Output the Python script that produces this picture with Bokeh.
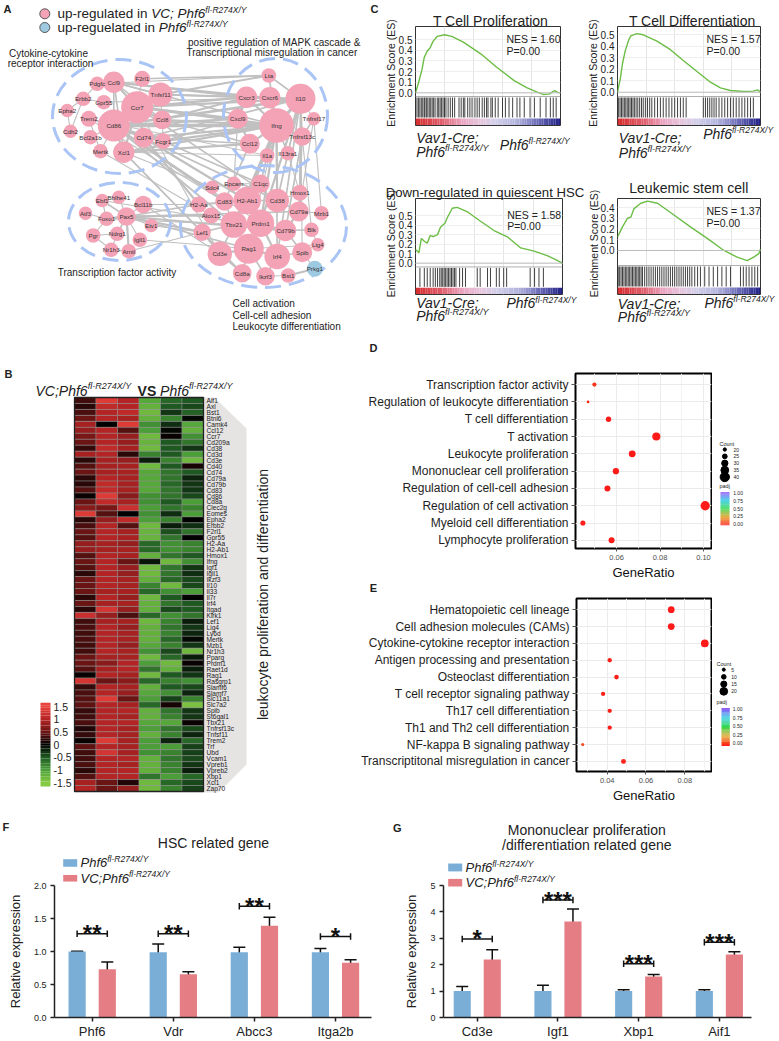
import math
from bokeh.plotting import figure
from bokeh.layouts import row, column
from bokeh.models import (Range1d, FixedTicker, ColumnDataSource, LinearColorMapper,
                          Span, Whisker, TeeHead, PrintfTickFormatter)
from bokeh.core.properties import value
from bokeh.embed import file_html
from bokeh.resources import INLINE

FONT = "Liberation Sans"
INK = "#222222"

# ======================= DATA =======================
# ---- Panel A: network ----
net_names = ["Pdgfc", "Ccl9", "F2rl1", "Tnfsf11", "Erbb2", "Gpr55", "Ccr7", "Epha2", "Trem2", "Cd86",
             "Ccl8", "Cdh2", "Cd74", "Bcl2a1b", "Fcgr1", "Mertk", "Xcl1",
             "Lta", "Cxcr3", "Cxcr6", "Il10", "Cxcl9", "Ifng", "Tnfrsf17", "Tnfrsf13c", "Ccl12", "Il1a", "Il13ra1",
             "Ebf1", "Bhlhe41", "Bcl11b", "Atf3", "Foxo1", "Pax5", "Etv1", "Pgr", "Ndrg1", "Igll1", "Nr1h3", "Arntl",
             "Sdc4", "Epcam", "C1qc", "Hmox1", "H2-Aa", "Cd83", "H2-Ab1", "Cd38", "Cd79a", "Mzb1", "Alox15",
             "Tbx21", "Prdm1", "Cd79b", "Blk", "Lef1", "Lig4", "Cd3e", "Rag1", "Irf4", "Spib", "Cd8a", "Ikzf3",
             "Bst1", "Prkg1"]
net_x = [96.7, 113.3, 141.7, 160, 82.7, 103.3, 136.7, 66.7, 88.3, 113.3, 161.7, 70, 143.3, 90, 162.7, 100, 123.3,
         268.3, 246, 269.3, 300, 237.3, 276, 313.3, 301.7, 249.3, 266.7, 287.3,
         101.7, 118.3, 142.7, 85, 106, 126, 150.7, 92.7, 116.7, 139.3, 110.7, 128.3,
         211.7, 233.3, 260, 299.3, 198.3, 224, 246.7, 276.7, 298.3, 321, 210.7, 233.3, 260, 285, 311, 201.7,
         317.3, 219.3, 248.3, 276.7, 301.7, 241.7, 265, 287.7, 314.3]
net_y = [83.3, 81.7, 78.3, 94, 98.3, 101.7, 106.7, 110, 118.3, 125, 119.3, 130.7, 137.3, 136.7, 140.7, 150.7, 151.7,
         75, 96.7, 97.3, 98.3, 118.3, 125, 118.3, 136, 143.3, 155, 152.7,
         200, 196.7, 204, 212.7, 218.3, 216, 225, 235, 233.3, 239.3, 249.3, 250.7,
         186.7, 183.3, 183.3, 192.3, 204, 201, 200, 200, 211, 212.7, 215, 224, 222.7, 230, 229.3, 231.7,
         244.3, 253.3, 248.3, 256, 251.7, 272.7, 275.7, 275, 268.3]
net_r = [7.3, 10.7, 8, 12, 7.3, 7.3, 16, 6.7, 8, 16, 9.3, 6.7, 10, 7.3, 8, 7.3, 10.7,
         7.3, 10.7, 10.7, 15, 10, 17.3, 6.7, 9.3, 10, 7.3, 7.3,
         6.7, 6.7, 8.7, 6.7, 7.3, 9.3, 6.7, 7.3, 7.3, 7.3, 7.3, 7.3,
         6.7, 7.3, 9.3, 8, 8, 9.3, 13.7, 11.8, 10, 7.3, 8, 13.3, 13.7, 10.7, 7.3, 8.7,
         6.7, 12.2, 15, 12.8, 10, 9.3, 9.3, 7.3, 8]
net_up_in = ["VC"] * 64 + ["Phf6"]
net_edges = [
    ("Ccl9", "Ccr7", 2), ("Ccl9", "Pdgfc", 1), ("Ccl9", "Tnfsf11", 1.5), ("Ccl9", "Cd86", 1.5), ("Ccr7", "Cd86", 3),
    ("Ccr7", "Tnfsf11", 2), ("Ccr7", "Ccl8", 2), ("Ccr7", "Cd74", 2), ("Ccr7", "Xcl1", 2), ("Ccr7", "F2rl1", 1),
    ("Cd86", "Cd74", 2.5), ("Cd86", "Xcl1", 2), ("Cd86", "Trem2", 1.5), ("Cd86", "Fcgr1", 1.5), ("Cd86", "Mertk", 1),
    ("Erbb2", "Epha2", 1), ("Erbb2", "Gpr55", 1), ("Epha2", "Cdh2", 1), ("Trem2", "Mertk", 1), ("Cd74", "Fcgr1", 1.5),
    ("Ccl8", "Fcgr1", 1), ("Ccl9", "Ccl8", 1.5), ("Bcl2a1b", "Cd86", 1), ("Cdh2", "Erbb2", 1), ("Pdgfc", "Erbb2", 1),
    ("Ccl9", "Xcl1", 1.5), ("Tnfsf11", "Ccl8", 1),
    ("Ccr7", "Cxcr3", 2), ("Ccr7", "Ifng", 2.5), ("Ccr7", "Cxcl9", 2), ("Ccl9", "Cxcr3", 2), ("Ccl9", "Cxcr6", 1.5),
    ("Ccl8", "Cxcr3", 2), ("Ccl8", "Ifng", 2), ("Tnfsf11", "Lta", 2), ("Tnfsf11", "Il10", 2), ("Tnfsf11", "Cxcr6", 1.5),
    ("Cd86", "Ifng", 3), ("Cd86", "Il10", 2.5), ("Cd86", "Cxcl9", 2), ("Cd74", "Ifng", 2), ("Cd74", "Il10", 1.5),
    ("Fcgr1", "Ifng", 2), ("Xcl1", "Ccl12", 2), ("Xcl1", "Ifng", 2), ("F2rl1", "Lta", 1.5), ("Ccl9", "Ifng", 1.5),
    ("Ccr7", "Il10", 2), ("Fcgr1", "Cxcl9", 1.5), ("Cd74", "Ccl12", 1.5), ("Ccl8", "Ccl12", 1.5), ("Xcl1", "Il1a", 1),
    ("Trem2", "Il1a", 1), ("Gpr55", "Cxcr6", 1), ("Pdgfc", "Lta", 1),
    ("Cxcr3", "Cxcl9", 2.5), ("Cxcr3", "Cxcr6", 2), ("Cxcr3", "Ifng", 2), ("Cxcr6", "Ifng", 2), ("Il10", "Ifng", 3),
    ("Lta", "Ifng", 1.5), ("Ifng", "Ccl12", 2), ("Ifng", "Il1a", 2), ("Ifng", "Tnfrsf13c", 1.5), ("Il10", "Tnfrsf13c", 1.5),
    ("Il10", "Tnfrsf17", 1), ("Tnfrsf13c", "Tnfrsf17", 1.5), ("Il13ra1", "Il10", 1), ("Cxcl9", "Ccl12", 2),
    ("Lta", "Il10", 1.5), ("Ifng", "Il13ra1", 1.5),
    ("Ifng", "Tbx21", 2.5), ("Ifng", "Cd38", 2), ("Ifng", "H2-Ab1", 2), ("Ifng", "Prdm1", 2), ("Il10", "Prdm1", 2),
    ("Il10", "Cd38", 1.5), ("Il10", "Hmox1", 1.5), ("Il10", "Irf4", 1.5), ("Tnfrsf13c", "Cd79b", 1.5),
    ("Tnfrsf13c", "Cd79a", 1.5), ("Tnfrsf17", "Cd79a", 1), ("Tnfrsf17", "Mzb1", 1), ("Tnfrsf13c", "Blk", 1),
    ("Il13ra1", "Hmox1", 1), ("Ccl12", "Cd83", 1.5), ("Il1a", "C1qc", 1.5), ("Cxcl9", "Epcam", 1), ("Il10", "Spib", 1),
    ("Ifng", "Cd8a", 1), ("Ifng", "Irf4", 1.5),
    ("Cd86", "Cd83", 2), ("Cd74", "H2-Ab1", 2), ("Cd74", "H2-Aa", 2), ("Xcl1", "Cd8a", 1.5), ("Xcl1", "Sdc4", 1),
    ("Ccr7", "Cd38", 1.5), ("Cd86", "Tbx21", 1.5), ("Ccr7", "Cd3e", 1), ("Fcgr1", "C1qc", 1.5), ("Mertk", "Alox15", 1),
    ("Cd86", "Prdm1", 1), ("Xcl1", "Lef1", 1), ("Trem2", "Cd83", 1), ("Cd74", "Cd38", 1.5),
    ("Ebf1", "Pax5", 1.5), ("Foxo1", "Pax5", 2.5), ("Bhlhe41", "Pax5", 1), ("Bcl11b", "Pax5", 1), ("Atf3", "Foxo1", 1),
    ("Pgr", "Foxo1", 1), ("Ndrg1", "Pax5", 1.5), ("Arntl", "Pax5", 2), ("Nr1h3", "Arntl", 1.5), ("Igll1", "Pax5", 1),
    ("Etv1", "Pax5", 1), ("Pgr", "Ndrg1", 1), ("Ebf1", "Foxo1", 1), ("Nr1h3", "Ndrg1", 1), ("Nr1h3", "Pgr", 1),
    ("Pax5", "Cd79a", 1.5), ("Pax5", "Cd79b", 2), ("Pax5", "Rag1", 1.5), ("Pax5", "Lef1", 2), ("Pax5", "Alox15", 2),
    ("Pax5", "H2-Aa", 1.5), ("Foxo1", "Tbx21", 1), ("Bcl11b", "Cd3e", 1), ("Ebf1", "Cd79b", 1), ("Igll1", "Rag1", 1),
    ("Etv1", "Lef1", 1), ("Arntl", "Lef1", 1), ("Bcl11b", "H2-Aa", 1),
    ("H2-Aa", "H2-Ab1", 2), ("Cd83", "H2-Ab1", 2), ("H2-Ab1", "Cd38", 1.5), ("H2-Ab1", "C1qc", 1.5),
    ("Tbx21", "Prdm1", 2), ("Prdm1", "Irf4", 2), ("Rag1", "Cd3e", 2), ("Rag1", "Irf4", 2), ("Rag1", "Prdm1", 2),
    ("Cd79a", "Cd79b", 2), ("Cd79b", "Blk", 1.5), ("Cd79b", "Spib", 1.5), ("Irf4", "Spib", 1.5), ("Irf4", "Ikzf3", 1.5),
    ("Rag1", "Ikzf3", 1.5), ("Cd8a", "Cd3e", 1.5), ("Cd3e", "Lef1", 1.5), ("Tbx21", "Cd3e", 1.5), ("Cd38", "Cd79a", 1.5),
    ("Hmox1", "Cd38", 1), ("Mzb1", "Cd79a", 1), ("Lig4", "Rag1", 1), ("Spib", "Lig4", 1), ("Bst1", "Prkg1", 2),
    ("Ikzf3", "Bst1", 1), ("Spib", "Prkg1", 1), ("Sdc4", "Epcam", 1), ("Epcam", "C1qc", 1), ("Alox15", "Tbx21", 1),
    ("Lef1", "Tbx21", 1.5), ("Cd83", "Tbx21", 1.5), ("Prdm1", "Cd79b", 1.5), ("Hmox1", "Cd79a", 1),
    ("Cd8a", "Rag1", 1.5), ("Blk", "Lig4", 1),
]
cluster_cx = [119, 275, 119, 263]
cluster_cy = [116, 115, 221, 226]
cluster_w = [134, 104, 102, 166]
cluster_h = [114, 114, 78, 122]

# ---- Panel B: heatmap ----
hm_genes = ["Aif1", "Axl", "Bst1", "Btnl6", "Camk4", "Ccl12", "Ccr7", "Cd209a", "Cd38", "Cd3d", "Cd3e", "Cd40",
            "Cd74", "Cd79a", "Cd79b", "Cd83", "Cd86", "Cd8a", "Clec2g", "Eomes", "Epha2", "Erbb2", "F2rl1", "Gpr55",
            "H2-Aa", "H2-Ab1", "Hmox1", "Ifng", "Igf1", "Igll1", "Ikzf3", "Il10", "Il33", "Il7r", "Irf4", "Itgad",
            "Klrk1", "Lef1", "Lig4", "Ly6d", "Mertk", "Mzb1", "Nr1h3", "Pparg", "Prdm1", "Raet1d", "Rag1", "Rasgrp1",
            "Slamf6", "Slamf7", "Slc11a1", "Slc7a2", "Spib", "St6gal1", "Tbx21", "Tnfrsf13c", "Tnfsf11", "Trem2",
            "Trf", "Ubd", "Vcam1", "Vpreb1", "Vpreb2", "Xbp1", "Xcl1", "Zap70"]
hm_values = [
    [0.3, 1.4, 1.0, -1.1, -0.6, -0.5], [0.2, 1.1, 1.0, -1.2, -0.5, -0.4], [0.35, 1.0, 1.1, -1.3, -0.3, -0.55],
    [0.5, 1.0, 0.9, -1.2, -0.8, -0.05], [0.9, 0.0, 1.4, -0.9, -0.25, -1.1], [0.8, 1.0, 0.4, -1.0, -0.05, -1.2],
    [0.6, 1.0, 0.8, -1.3, 0.05, -0.9], [0.5, 1.0, 0.8, -1.25, -0.5, -0.7], [0.25, 1.1, 0.9, -1.3, -0.5, -0.3],
    [0.9, 1.0, 0.2, -0.8, -0.5, -1.0], [0.2, 0.9, 0.8, -0.15, -0.8, -1.3], [0.4, 0.9, 0.9, -1.3, -0.5, 0.1],
    [0.5, 0.9, 0.9, -1.1, -0.7, -0.5], [0.2, 1.0, 0.9, -1.1, -0.7, -0.2], [0.2, 1.1, 0.9, -1.1, -0.6, -0.3],
    [0.4, 1.1, 0.9, -1.1, -0.7, -0.3], [0.05, 1.4, 0.7, -0.9, -0.7, -0.4], [0.5, 1.1, 0.9, -0.9, -0.5, -1.0],
    [0.7, 0.6, 1.2, -1.0, -0.7, -0.8], [1.4, 0.4, 0.0, -0.9, -0.25, -1.0], [0.2, 0.8, 1.1, -1.0, -0.8, 0.0],
    [0.35, 1.0, 0.4, -1.3, -0.15, -0.25], [0.5, 1.0, 0.9, -1.25, -0.45, -0.7], [0.4, 1.0, 0.9, -1.25, -0.7, 0.0],
    [0.8, 0.9, 0.8, -0.6, -0.9, -0.8], [0.8, 0.9, 0.9, -0.6, -0.9, -0.8], [0.4, 1.0, 0.9, -1.2, -0.7, -0.5],
    [0.5, 1.0, 0.5, -0.1, -1.3, -0.9], [0.4, 1.0, 0.8, -1.3, -0.7, -0.3], [0.2, 1.0, 0.8, -1.3, -0.7, -0.25],
    [0.5, 1.0, 0.9, -1.2, -0.6, -0.4], [0.5, 1.0, 0.9, -0.8, -1.3, -0.4], [0.5, 0.9, 0.9, -0.6, -0.9, -1.0],
    [0.2, 1.0, 0.8, -1.3, -0.5, 0.0], [0.5, 0.9, 0.9, -1.2, -0.7, -0.5], [0.2, 1.3, 0.8, -1.2, -0.4, -0.5],
    [1.2, 0.8, 0.35, -0.6, -0.9, -0.7], [0.3, 0.9, 0.9, -1.3, -0.8, -0.15], [0.35, 1.0, 0.8, -1.2, -0.7, -0.3],
    [0.3, 1.0, 0.9, -1.2, -0.8, -0.2], [0.35, 1.0, 0.9, -1.2, -0.6, -0.05], [0.3, 1.0, 0.8, -1.1, -0.8, -0.3],
    [0.3, 1.0, 0.9, -0.9, -0.4, -1.3], [0.5, 0.9, 0.9, -1.3, -0.6, -0.15], [0.5, 0.7, 1.0, -1.0, -1.3, 0.05],
    [0.4, 0.9, 1.0, -0.7, -1.2, -0.15], [0.05, 1.0, 0.9, -1.3, -0.5, -0.3], [1.3, 0.5, 0.7, -0.6, -0.8, -0.9],
    [0.25, 1.0, 0.9, -1.2, -0.5, -0.4], [0.35, 1.0, 0.8, -1.1, -0.9, -0.2], [0.4, 1.4, 0.5, -1.0, -0.35, -0.8],
    [0.45, 1.0, 0.9, -0.6, 0.1, -1.4], [0.25, 1.0, 1.0, -1.2, -0.7, -0.3], [0.3, 1.0, 0.9, -1.2, -0.8, -0.3],
    [0.35, 1.0, 1.0, -1.1, -1.1, 0.05], [0.15, 1.0, 0.9, -1.0, -0.7, -0.4], [0.25, 1.0, 0.9, -1.2, -0.8, -0.2],
    [0.05, 1.4, 0.9, -1.0, -0.2, -0.6], [0.45, 1.0, 0.9, -1.0, -1.0, -0.35], [0.3, 1.3, 0.9, -0.9, -0.8, -0.35],
    [0.3, 1.0, 1.0, -1.2, -0.7, -0.4], [0.35, 1.0, 0.9, -1.2, -0.8, -0.3], [0.2, 1.0, 1.0, -1.2, -0.8, -0.15],
    [0.4, 1.0, 1.0, -0.7, -1.0, -0.6], [0.9, 0.5, 0.15, -1.3, -0.6, -0.4], [1.0, 0.5, 0.8, -1.3, -0.8, -0.35],
]
hm_key_ticks = [1.5, 1.0, 0.5, 0.0, -0.5, -1.0, -1.5]
hm_key_labels = ["1.5", "1", "0.5", "0", "-0.5", "-1", "-1.5"]

# ---- Panel C: GSEA ----
gsea_titles = ["T Cell Proliferation", "T Cell Differentiation", "Down-regulated in quiescent HSC", "Leukemic stem cell"]
gsea_nes = ["NES = 1.60", "NES = 1.57", "NES = 1.58", "NES = 1.37"]
gsea_p = ["P=0.00", "P=0.00", "P=0.00", "P=0.00"]
c1_x = [0, 0.02, 0.045, 0.06, 0.08, 0.1, 0.12, 0.15, 0.2, 0.25, 0.33, 0.45, 0.56, 0.68, 0.77, 0.84, 0.88, 0.92, 0.945, 0.96, 0.98, 1.0]
c1_es = [0, 0.09, 0.22, 0.33, 0.39, 0.42, 0.48, 0.53, 0.545, 0.53, 0.475, 0.366, 0.24, 0.115, 0.047, 0.006, -0.015, -0.012, 0.01, 0.02, 0.005, 0.0]
c2_x = [0, 0.02, 0.035, 0.054, 0.077, 0.093, 0.135, 0.18, 0.276, 0.37, 0.46, 0.556, 0.65, 0.72, 0.79, 0.88, 0.95, 0.98, 1.0]
c2_es = [0, 0.12, 0.25, 0.36, 0.45, 0.49, 0.51, 0.50, 0.445, 0.37, 0.276, 0.18, 0.087, 0.038, 0.015, 0.006, 0.009, 0.02, 0.0]
c3_x = [0, 0.023, 0.04, 0.06, 0.08, 0.1, 0.12, 0.15, 0.17, 0.2, 0.216, 0.25, 0.284, 0.35, 0.44, 0.534, 0.625, 0.716, 0.807, 0.9, 0.95, 1.0]
c3_es = [0.143, 0.11, 0.26, 0.23, 0.21, 0.29, 0.28, 0.30, 0.377, 0.42, 0.477, 0.577, 0.587, 0.543, 0.443, 0.343, 0.277, 0.16, 0.127, 0.077, 0.04, 0.0]
c4_x = [0, 0.035, 0.07, 0.093, 0.116, 0.163, 0.21, 0.28, 0.395, 0.51, 0.63, 0.744, 0.837, 0.907, 0.953, 0.988, 1.0]
c4_es = [0.125, 0.22, 0.30, 0.31, 0.39, 0.44, 0.46, 0.44, 0.33, 0.22, 0.11, 0.0, -0.0625, -0.094, -0.0625, -0.03, 0.015]
c1_hits = [0.01, 0.02, 0.03, 0.04, 0.05, 0.06, 0.065, 0.075, 0.085, 0.095, 0.105, 0.115, 0.125, 0.135, 0.15, 0.16,
           0.17, 0.18, 0.19, 0.2, 0.21, 0.225, 0.24, 0.255, 0.27, 0.3, 0.315, 0.33, 0.34, 0.36, 0.375, 0.39, 0.41,
           0.425, 0.44, 0.46, 0.475, 0.49, 0.5, 0.52, 0.53, 0.55, 0.57, 0.6, 0.62, 0.645, 0.67, 0.7, 0.72, 0.75,
           0.79, 0.82, 0.86, 0.9, 0.93, 0.95, 0.97]
c2_hits = [0.008, 0.018, 0.028, 0.038, 0.048, 0.058, 0.068, 0.078, 0.088, 0.098, 0.108, 0.118, 0.13, 0.142, 0.155,
           0.168, 0.18, 0.195, 0.21, 0.225, 0.24, 0.26, 0.28, 0.3, 0.32, 0.34, 0.36, 0.38, 0.4, 0.42, 0.44, 0.46,
           0.48, 0.6, 0.615, 0.63, 0.645, 0.66, 0.675, 0.69, 0.71, 0.73, 0.75, 0.77, 0.79, 0.81, 0.83, 0.85, 0.87,
           0.89, 0.91, 0.93, 0.95]
c3_hits = [0.03, 0.06, 0.08, 0.1, 0.12, 0.135, 0.15, 0.165, 0.175, 0.185, 0.195, 0.205, 0.215, 0.225, 0.235, 0.245,
           0.255, 0.265, 0.275, 0.3, 0.32, 0.34, 0.42, 0.44, 0.49, 0.51, 0.55, 0.57, 0.6, 0.62, 0.78, 0.81, 0.84, 0.87]
c4_hits = [0.005, 0.015, 0.025, 0.035, 0.045, 0.055, 0.065, 0.075, 0.085, 0.095, 0.105, 0.115, 0.125, 0.135, 0.145,
           0.155, 0.165, 0.175, 0.19, 0.205, 0.22, 0.235, 0.25, 0.265, 0.28, 0.295, 0.31, 0.325, 0.34, 0.355, 0.37,
           0.385, 0.4, 0.415, 0.43, 0.445, 0.46, 0.475, 0.49, 0.505, 0.52, 0.54, 0.56, 0.58, 0.61, 0.64, 0.67, 0.7,
           0.73, 0.76, 0.79, 0.86, 0.88, 0.9, 0.92, 0.94, 0.96, 0.98]

# ---- Panels D, E: enrichment dot plots ----
d_terms = ["Transcription factor activity", "Regulation of leukocyte differentiation", "T cell differentiation",
           "T activation", "Leukocyte proliferation", "Mononuclear cell proliferation",
           "Regulation of cell-cell adhesion", "Regulation of cell activation", "Myeloid cell differentiation",
           "Lymphocyte proliferation"]
d_ratio = [0.0498, 0.0469, 0.0563, 0.0783, 0.0672, 0.0597, 0.0558, 0.1008, 0.0445, 0.0577]
d_count = [23, 18, 27, 36, 32, 30, 29, 40, 26, 29]
d_padj = [0.05, 0.02, 0.004, 0.001, 0.001, 0.002, 0.004, 0.001, 0.01, 0.002]
d_count_legend = [20, 25, 30, 35, 40]
e_terms = ["Hematopoietic cell lineage", "Cell adhesion molecules (CAMs)", "Cytokine-cytokine receptor interaction",
           "Antigen processing and presentation", "Osteoclast differentiation", "T cell receptor signaling pathway",
           "Th17 cell differentiation", "Th1 and Th2 cell differentiation", "NF-kappa B signaling pathway",
           "Transcriptitonal misregulation in cancer"]
e_ratio = [0.073, 0.073, 0.0903, 0.0413, 0.0448, 0.0379, 0.0413, 0.0413, 0.0274, 0.0484]
e_count = [17, 17, 20, 9, 10, 9, 9, 9, 5, 11]
e_padj = [0.001, 0.001, 0.001, 0.01, 0.01, 0.01, 0.01, 0.01, 0.09, 0.02]
e_count_legend = [5, 10, 15, 20]
padj_legend = [1.0, 0.75, 0.5, 0.25, 0.0]

# ---- Panels F, G: qPCR bars ----
f_genes = ["Phf6", "Vdr", "Abcc3", "Itga2b"]
f_ctrl = [1.0, 0.99, 0.99, 0.99]
f_ctrl_err = [0.005, 0.125, 0.075, 0.055]
f_vc = [0.73, 0.655, 1.39, 0.83]
f_vc_err = [0.11, 0.04, 0.13, 0.045]
f_bracket = [1.27, 1.27, 1.686, 1.227]
f_sig = ["**", "**", "**", "*"]
g_genes = ["Cd3e", "Igf1", "Xbp1", "Aif1"]
g_ctrl = [1.0, 1.0, 1.0, 1.0]
g_ctrl_err = [0.17, 0.22, 0.05, 0.05]
g_vc = [2.2, 3.64, 1.55, 2.39]
g_vc_err = [0.37, 0.47, 0.08, 0.1]
g_bracket = [2.975, 4.45, 2.04, 2.85]
g_sig = ["*", "***", "***", "***"]

# ======================= HELPERS =======================
AW = {' ': 278, '!': 278, '(': 333, ')': 333, '*': 389, ',': 278, '-': 333, '.': 278, '/': 278, ':': 278,
      ';': 278, '=': 584, '&': 667}
for _c in "0123456789":
    AW[_c] = 556
AW.update(dict(A=667, B=667, C=722, D=722, E=667, F=611, G=778, H=722, I=278, J=500, K=667, L=556, M=833, N=722,
               O=778, P=667, Q=778, R=722, S=667, T=611, U=722, V=667, W=944, X=667, Y=667, Z=611,
               a=556, b=556, c=500, d=556, e=556, f=278, g=556, h=556, i=222, j=222, k=500, l=222, m=833, n=556,
               o=556, p=556, q=556, r=333, s=500, t=278, u=556, v=500, w=722, x=500, y=500, z=500))


def tw(s, size):
    return sum(AW.get(ch, 556) for ch in s) * size / 1000.0


def hexrgb(h):
    return tuple(int(h[i:i + 2], 16) for i in (1, 3, 5))


def ramp(stops, n):
    out = []
    for i in range(n):
        t = i / (n - 1)
        for (p0, c0), (p1, c1) in zip(stops[:-1], stops[1:]):
            if t <= p1 + 1e-9:
                f = 0 if p1 == p0 else (t - p0) / (p1 - p0)
                a, b = hexrgb(c0), hexrgb(c1)
                out.append("#%02x%02x%02x" % tuple(int(round(a[k] + (b[k] - a[k]) * f)) for k in range(3)))
                break
    return out


def lab(p, x, y, text, size=10, style="normal", color=INK, align="left", baseline="middle", angle=0.0,
        xr="default", yr="default"):
    p.text(x=[x], y=[y], text=[text], x_range_name=xr, y_range_name=yr, text_font=value(FONT),
           text_font_size=value(f"{size}px"), text_font_style=style, text_color=color,
           text_align=align, text_baseline=baseline, angle=angle, level="overlay")


def rich(p, x, y, parts, xr="px", yr="px", color=INK):
    cx = x
    for t, size, style, dy in parts:
        lab(p, cx, y + dy, t, size, style, color, "left", "middle", xr=xr, yr=yr)
        cx += tw(t, size)


def canvas(x0, x1, y0, y1):
    p = figure(width=int(round(x1 - x0)), height=int(round(y1 - y0)),
               x_range=Range1d(x0, x1), y_range=Range1d(y1, y0),
               x_axis_location=None, y_axis_location=None, min_border=0,
               output_backend="svg", toolbar_location=None)
    p.outline_line_color = None
    p.grid.visible = False
    return p


def framed(cbox, fbox, xr, yr, **kw):
    cx0, cy0, cx1, cy1 = cbox
    fx0, fy0, fx1, fy1 = fbox
    p = figure(width=cx1 - cx0, height=cy1 - cy0, x_range=Range1d(*xr), y_range=Range1d(*yr),
               min_border=0, min_border_left=fx0 - cx0, min_border_right=cx1 - fx1,
               min_border_top=fy0 - cy0, min_border_bottom=cy1 - fy1,
               output_backend="svg", toolbar_location=None, **kw)
    p.extra_x_ranges = {"px": Range1d(fx0, fx1)}
    p.extra_y_ranges = {"px": Range1d(fy1, fy0)}
    return p


PINK = "#f4a3b6"
LBLUE = "#9ecae1"
SUP = " fl-R274X/Y"
W_PAGE, H_PAGE = 779, 1041

# ======================= PANEL A =======================
pA = canvas(0, 380, 0, 335)
nidx = {n: i for i, n in enumerate(net_names)}
ea = [nidx[a] for a, b, w in net_edges]
eb = [nidx[b] for a, b, w in net_edges]
pA.segment(x0=[net_x[i] for i in ea], y0=[net_y[i] for i in ea], x1=[net_x[i] for i in eb],
           y1=[net_y[i] for i in eb], line_color="#c0c0c0", line_width=[w * 1.1 for a, b, w in net_edges])
pA.ellipse(x=cluster_cx, y=cluster_cy, width=cluster_w, height=cluster_h, fill_color=None,
           line_color="#a9c4f5", line_width=3, line_dash="16 8")
pA.circle(x=net_x, y=net_y, radius=net_r, fill_color=[PINK if g == "VC" else LBLUE for g in net_up_in],
          line_color=None)
pA.text(x=net_x, y=net_y, text=net_names, text_font=value(FONT), text_font_size=value("6.2px"),
        text_align="center", text_baseline="middle", text_color="#333333")
pA.circle(x=[44.3, 44.3], y=[13.3, 27], radius=5, fill_color=[PINK, LBLUE], line_color="#555555", line_width=1)
rich(pA, 57, 13.3, [("up-regulated in ", 13.5, "normal", 0), ("VC; Phf6", 13.5, "italic", 0),
                    ("fl-R274X/Y", 8.5, "italic", -4)], xr="default", yr="default")
rich(pA, 57, 27, [("up-reguelated in ", 13.5, "normal", 0), ("Phf6", 13.5, "italic", 0),
                  ("fl-R274X/Y", 8.5, "italic", -4)], xr="default", yr="default")
lab(pA, 3, 8.5, "A", 11, "bold")
lab(pA, 374, 8.5, "C", 11, "bold", align="center")
lab(pA, 48, 52.7, "Cytokine-cytokine", 10, align="center")
lab(pA, 50, 63.3, "receptor interaction", 10, align="center")
lab(pA, 273.7, 41.7, "positive regulation of MAPK cascade &", 10, align="center")
lab(pA, 271.3, 51.7, "Transcriptional misregulation in cancer", 10, align="center")
lab(pA, 116.5, 271.7, "Transcription factor activity", 10, align="center")
lab(pA, 232, 303.3, "Cell activation", 10)
lab(pA, 232, 315, "Cell-cell adhesion", 10)
lab(pA, 232, 326, "Leukocyte differentiation", 10)

# ======================= PANEL B =======================
HX0, HX1, HY0, HY1 = 74, 203, 397, 791
ncol = len(hm_values[0])
nrow = len(hm_genes)
CW = (HX1 - HX0) / ncol
RH = (HY1 - HY0) / nrow
BX0, BX1, BY0, BY1 = 0, 318, 335, 805
pB = figure(width=BX1 - BX0, height=BY1 - BY0,
            x_range=Range1d((BX0 - HX0) / CW - 0.5, (BX1 - HX0) / CW - 0.5),
            y_range=Range1d((BY1 - HY0) / RH - 0.5, (BY0 - HY0) / RH - 0.5),
            x_axis_location=None, y_axis_location=None, min_border=0,
            output_backend="svg", toolbar_location=None)
pB.outline_line_color = None
pB.grid.visible = False
KEY_V0, KEY_PX0, KS = 1.5, 706, 25.4
pB.extra_x_ranges = {"px": Range1d(BX0, BX1)}
pB.extra_y_ranges = {"px": Range1d(BY1, BY0),
                     "key": Range1d(KEY_V0 - (BY1 - KEY_PX0) / KS, KEY_V0 + (KEY_PX0 - BY0) / KS)}
hm_mapper = LinearColorMapper(palette=ramp([(0, "#86c943"), (0.167, "#4a9e38"), (0.333, "#1f5a22"),
                                            (0.5, "#000000"), (0.667, "#6a1414"), (0.833, "#b42424"),
                                            (1, "#e8403c")], 255), low=-1.5, high=1.5)
pB.patch(x=[203, 214, 246, 246, 218, 203], y=[397, 397, 428, 764, 792, 792], x_range_name="px",
         y_range_name="px", fill_color="#e6e3e3", line_color=None)
hsrc = ColumnDataSource(dict(x=[j for r in range(nrow) for j in range(ncol)],
                             y=[r for r in range(nrow) for j in range(ncol)],
                             v=[hm_values[r][j] for r in range(nrow) for j in range(ncol)]))
pB.rect(x="x", y="y", width=1, height=1, source=hsrc, fill_color={"field": "v", "transform": hm_mapper},
        line_color="#8c8c8c", line_width=0.5)
pB.rect(x=[(ncol - 1) / 2], y=[(nrow - 1) / 2], width=[ncol], height=[nrow], fill_color=None,
        line_color="#222222", line_width=1.3)
pB.text(x=[206] * nrow, y=list(range(nrow)), text=hm_genes, x_range_name="px", text_font=value(FONT),
        text_font_size=value("6.6px"), text_align="left", text_baseline="middle", text_color="#222222")
key_vals = [round(-1.6 + 0.1 * i, 2) for i in range(33)]
ksrc = ColumnDataSource(dict(x=[45] * len(key_vals), y=key_vals, v=key_vals))
pB.rect(x="x", y="y", width=10, height=0.1, source=ksrc, x_range_name="px", y_range_name="key",
        fill_color={"field": "v", "transform": hm_mapper}, line_color=None)
for v, t in zip(hm_key_ticks, hm_key_labels):
    lab(pB, 53, v, t, 10.5, xr="px", yr="key")
lab(pB, 262, 594, "leukocyte proliferation and differentiation", 14, align="center", angle=math.pi / 2,
    xr="px", yr="px")
lab(pB, 4, 373.5, "B", 11, "bold", xr="px", yr="px")
rich(pB, 35, 390, [("VC;Phf6", 14, "italic", 0), (SUP, 9, "italic", -4.5), (" ", 14, "normal", 0),
                   ("VS", 14, "bold", 0), (" ", 14, "normal", 0), ("Phf6", 14, "italic", 0),
                   (SUP, 9, "italic", -4.5)])

# ======================= PANEL C =======================
GRAD = ramp([(0, "#d42a2c"), (0.18, "#e0606e"), (0.32, "#eaa6c2"), (0.45, "#e6c6de"), (0.55, "#d2cfe9"),
             (0.7, "#b4b4de"), (0.85, "#6a6ab8"), (1.0, "#222288")], 60)
gsea_specs = [
    dict(cell=(380, 0, 586, 170), frame=(415, 26, 560, 125), yr=(-0.306, 0.622), ticks=[0, 0.1, 0.2, 0.3, 0.4, 0.5],
         t=(490, 20, 14), nes=(506, 38.3, 50.7), ylx=390, l1=(415.7, 137), l2=(415.7, 151.7), rr=(499.3, 144.3),
         x=c1_x, y=c1_es, hits=c1_hits),
    dict(cell=(586, 0, W_PAGE, 170), frame=(617, 26, 760, 125), yr=(-0.29, 0.572), ticks=[0, 0.1, 0.2, 0.3, 0.4, 0.5],
         t=(691.7, 20, 14), nes=(706, 38.3, 50.7), ylx=592.7, l1=(618.3, 137), l2=(618.3, 152), rr=(702.7, 133.3),
         x=c2_x, y=c2_es, hits=c2_hits),
    dict(cell=(380, 170, 588, 335), frame=(415, 193, 562, 294), yr=(-0.33, 0.68), ticks=[0, 0.1, 0.2, 0.3, 0.4, 0.5],
         t=(484.5, 186.5, 13.2), nes=(506.7, 210, 222.3), ylx=390, l1=(415.7, 303.3), l2=(415.7, 316.7),
         rr=(506, 303.3), x=c3_x, y=c3_es, hits=c3_hits),
    dict(cell=(588, 170, W_PAGE, 335), frame=(617, 198, 760, 294), yr=(-0.41, 0.484), ticks=[0, 0.1, 0.2, 0.3, 0.4],
         t=(688.3, 187.3, 14), nes=(706, 210, 222.3), ylx=593.5, l1=(617.3, 303.3), l2=(617.3, 316.7),
         rr=(704, 302.7), x=c4_x, y=c4_es, hits=c4_hits),
]
gfigs = []
for k, s in enumerate(gsea_specs):
    fx0, fy0, fx1, fy1 = s["frame"]
    p = framed(s["cell"], s["frame"], (0, 1), s["yr"], x_axis_location=None)
    p.outline_line_color = "#333333"
    p.outline_line_width = 1
    ax = p.yaxis[0]
    ax.ticker = FixedTicker(ticks=s["ticks"])
    ax.formatter = PrintfTickFormatter(format="%.1f")
    ax.major_label_text_font = FONT
    ax.major_label_text_font_size = "10px"
    ax.major_label_text_color = INK
    ax.major_tick_out = 0
    ax.major_tick_in = 0
    ax.minor_tick_line_color = None
    ax.axis_line_color = None
    ax.major_label_standoff = 3
    p.ygrid.grid_line_color = "#eeeeee"
    p.add_layout(Span(location=0, dimension="width", line_color="#bdbdbd", line_width=1))
    p.segment(x0=[0], y0=[fy1 - 29], x1=[1], y1=[fy1 - 29], y_range_name="px", line_color="#9a9a9a",
              line_width=0.8)
    nh = len(s["hits"])
    p.segment(x0=s["hits"], y0=[fy1 - 28] * nh, x1=s["hits"], y1=[fy1 - 8] * nh, y_range_name="px",
              line_color="#111111", line_width=1, line_alpha=0.8)
    NG = len(GRAD)
    p.quad(left=[i / NG for i in range(NG)], right=[(i + 1) / NG for i in range(NG)], bottom=[fy1 - 0.5] * NG,
           top=[fy1 - 7] * NG, y_range_name="px", fill_color=GRAD, line_color=None)
    p.line(s["x"], s["y"], line_color="#6cbd45", line_width=1.4)
    tx, ty, tsz = s["t"]
    lab(p, tx, ty, gsea_titles[k], tsz, align="center", xr="px", yr="px")
    nx, ny1, ny2 = s["nes"]
    lab(p, nx, ny1, gsea_nes[k], 10.5, xr="px", yr="px")
    lab(p, nx, ny2, gsea_p[k], 10.5, xr="px", yr="px")
    lab(p, s["ylx"], (fy0 + fy1) / 2 - 3, "Enrichment Score (ES)", 10.5, align="center", angle=math.pi / 2,
        xr="px", yr="px")
    lab(p, s["l1"][0], s["l1"][1], "Vav1-Cre;", 14, "italic", xr="px", yr="px")
    rich(p, s["l2"][0], s["l2"][1], [("Phf6", 14, "italic", 0), (SUP, 9, "italic", -4)])
    rich(p, s["rr"][0], s["rr"][1], [("Phf6", 14, "italic", 0), (SUP, 8.5, "italic", -4)])
    gfigs.append(p)

# ======================= PANELS D, E =======================
padj_mapper = LinearColorMapper(palette=ramp([(0, "#ff1a1a"), (0.25, "#e69a1a"), (0.5, "#33d94a"),
                                              (0.75, "#22c9e0"), (1, "#9a55ff")], 200), low=0, high=1)


def dotplot(cbox, fbox, xr, yr, terms, ratio, count, padj, xt, xm, sfn, leg_counts, lg, letter):
    fx0, fy0, fx1, fy1 = fbox
    p = framed(cbox, fbox, xr, yr)
    p.outline_line_color = "black"
    p.outline_line_width = 2
    n = len(terms)
    ypos = [n - 1 - k for k in range(n)]
    ya = p.yaxis[0]
    ya.ticker = FixedTicker(ticks=ypos)
    ya.major_label_overrides = {n - 1 - k: t for k, t in enumerate(terms)}
    ya.major_label_text_font = FONT
    ya.major_label_text_font_size = "12px"
    ya.major_label_text_color = "#1e1e1e"
    ya.major_tick_out = 4
    ya.major_tick_in = 0
    ya.major_tick_line_color = "#555555"
    ya.minor_tick_line_color = None
    ya.axis_line_color = None
    ya.major_label_standoff = 3
    xa = p.xaxis[0]
    xa.ticker = FixedTicker(ticks=xt, minor_ticks=xm)
    xa.formatter = PrintfTickFormatter(format="%.2f")
    xa.major_label_text_font = FONT
    xa.major_label_text_font_size = "7.5px"
    xa.major_label_text_color = "#4d4d4d"
    xa.major_tick_out = 3
    xa.major_tick_in = 0
    xa.major_tick_line_color = "#555555"
    xa.minor_tick_line_color = None
    xa.axis_line_color = None
    xa.major_label_standoff = 2
    xa.axis_label = "GeneRatio"
    xa.axis_label_text_font = FONT
    xa.axis_label_text_font_size = "13px"
    xa.axis_label_text_font_style = "normal"
    xa.axis_label_text_color = "#111111"
    xa.axis_label_standoff = 2
    p.xgrid.grid_line_color = "#ebebeb"
    p.xgrid.minor_grid_line_color = "#f3f3f3"
    p.ygrid.grid_line_color = "#ebebeb"
    src = ColumnDataSource(dict(x=ratio, y=ypos, s=[sfn(c) for c in count], padj=padj))
    p.scatter("x", "y", size="s", source=src, fill_color={"field": "padj", "transform": padj_mapper},
              line_color=None)
    lab(p, letter[1], letter[2], letter[0], 11, "bold", align="center", xr="px", yr="px")
    # legend in its own canvas to the right of the plot
    L = canvas(cbox[2], W_PAGE, cbox[1], cbox[3])
    lab(L, lg["tx"], lg["cty"], "Count", 5.5)
    dy = [lg["dy0"] + i * lg["ddy"] for i in range(len(leg_counts))]
    L.scatter(x=[lg["dx"]] * len(leg_counts), y=dy, size=[sfn(c) for c in leg_counts], color="black")
    for c, yy in zip(leg_counts, dy):
        lab(L, lg["lx"], yy, str(c), 5)
    lab(L, lg["tx"], lg["pty"], "padj", 5.5)
    cx0, cx1, ct, cb = lg["cb"]
    NC = 40
    csrc = ColumnDataSource(dict(left=[cx0] * NC, right=[cx1] * NC,
                                 bottom=[cb - i * (cb - ct) / NC for i in range(NC)],
                                 top=[cb - (i + 1) * (cb - ct) / NC for i in range(NC)],
                                 v=[(i + 0.5) / NC for i in range(NC)]))
    L.quad(left="left", right="right", bottom="bottom", top="top", source=csrc,
           fill_color={"field": "v", "transform": padj_mapper}, line_color=None)
    for v in padj_legend:
        lab(L, lg["clx"], lg["lb"] - v * (lg["lb"] - lg["lt"]), "%.2f" % v, 5)
    return row(p, L)


pD = dotplot((318, 335, 712, 582), (575, 373, 711, 551), (0.0411, 0.1037), (-0.47, 9.642),
             d_terms, d_ratio, d_count, d_padj, [0.06, 0.08, 0.10], [0.05, 0.07, 0.09],
             lambda c: 2.7 + (c - 18) * 0.3, d_count_legend,
             dict(tx=719, cty=434.3, dx=724.3, dy0=442.3, ddy=9.7, lx=733, pty=494.3, cb=(720, 729, 502.3, 549.3),
                  clx=732.7, lt=504, lb=547.3), ("D", 373, 347))
pE = dotplot((318, 582, 712, 805), (576, 598, 711, 773), (0.02418, 0.09376), (-0.6, 9.663),
             e_terms, e_ratio, e_count, e_padj, [0.04, 0.06, 0.08], [0.03, 0.05, 0.07, 0.09],
             lambda c: 1.52 + 0.309 * c, e_count_legend,
             dict(tx=716, cty=666.7, dx=723.3, dy0=673.7, ddy=9.33, lx=730.7, pty=715, cb=(721, 729.3, 723.3, 772),
                  clx=732.3, lt=724.7, lb=768.7), ("E", 373, 587))

# ======================= PANELS F, G =======================
BLUE = "#7aaed6"
RED = "#e57e84"


def barplot(cbox, fbox, xr, yr, yticks, yfmt, genes, cm, ce, vm, ve, br, sig, titles, leg, letter, ylab_standoff):
    fx0, fy0, fx1, fy1 = fbox
    p = framed(cbox, fbox, xr, yr)
    p.outline_line_color = None
    p.grid.visible = False
    ppu = (fy1 - fy0) / (yr[1] - yr[0])
    n = len(genes)
    OFF, BW = 0.186, 0.212
    xb = [i - OFF for i in range(n)]
    xv = [i + OFF for i in range(n)]
    p.vbar(x=xb, top=cm, width=BW, fill_color=BLUE, line_color=None)
    p.vbar(x=xv, top=vm, width=BW, fill_color=RED, line_color=None)
    for xs, m, e in ((xb, cm, ce), (xv, vm, ve)):
        wsrc = ColumnDataSource(dict(base=xs, upper=[a + b for a, b in zip(m, e)], lower=[a - b for a, b in zip(m, e)]))
        p.add_layout(Whisker(source=wsrc, base="base", upper="upper", lower="lower", line_color="#111111",
                             line_width=1.5,
                             upper_head=TeeHead(size=12, line_color="#111111", line_width=1.5),
                             lower_head=TeeHead(size=12, line_color="#111111", line_width=1.5)))
    tick = 3.3 / ppu
    p.segment(x0=xb, y0=br, x1=xv, y1=br, line_color="#111111", line_width=1.5)
    p.segment(x0=xb, y0=[b - tick for b in br], x1=xb, y1=[b + tick for b in br], line_color="#111111",
              line_width=1.5)
    p.segment(x0=xv, y0=[b - tick for b in br], x1=xv, y1=[b + tick for b in br], line_color="#111111",
              line_width=1.5)
    p.text(x=list(range(n)), y=br, text=sig, text_font=value(FONT), text_font_size=value("24px"),
           text_font_style="bold", text_align="center", text_baseline="middle", text_color="#111111")
    ya = p.yaxis[0]
    ya.ticker = FixedTicker(ticks=yticks)
    ya.formatter = PrintfTickFormatter(format=yfmt)
    ya.major_label_text_font = FONT
    ya.major_label_text_font_size = "9px"
    ya.major_label_text_color = INK
    ya.major_tick_out = 4
    ya.major_tick_in = 0
    ya.minor_tick_line_color = None
    ya.axis_line_width = 1.5
    ya.major_tick_line_width = 1.5
    ya.axis_line_color = "#222222"
    ya.major_tick_line_color = "#222222"
    ya.major_label_standoff = 4
    ya.axis_label = "Relative expression"
    ya.axis_label_text_font = FONT
    ya.axis_label_text_font_size = "13px"
    ya.axis_label_text_font_style = "normal"
    ya.axis_label_text_color = INK
    ya.axis_label_standoff = ylab_standoff
    xa = p.xaxis[0]
    xa.ticker = FixedTicker(ticks=list(range(n)))
    xa.major_label_overrides = {i: g for i, g in enumerate(genes)}
    xa.major_label_text_font = FONT
    xa.major_label_text_font_size = "13px"
    xa.major_label_text_color = INK
    xa.major_tick_out = 4
    xa.major_tick_in = 0
    xa.minor_tick_line_color = None
    xa.axis_line_width = 1.5
    xa.major_tick_line_width = 1.5
    xa.axis_line_color = "#222222"
    xa.major_tick_line_color = "#222222"
    xa.major_label_standoff = 2
    for t, tx, ty in titles:
        lab(p, tx, ty, t, 14, align="center", xr="px", yr="px")
    lx0, lx1, by0, by1, ry0, ry1, tx = leg
    p.quad(left=[lx0, lx0], right=[lx1, lx1], top=[by0, ry0], bottom=[by1, ry1], fill_color=[BLUE, RED],
           line_color=None, x_range_name="px", y_range_name="px", level="overlay")
    rich(p, tx, (by0 + by1) / 2, [("Phf6", 13, "italic", 0), ("fl-R274X/Y", 8.5, "italic", -4)])
    rich(p, tx, (ry0 + ry1) / 2, [("VC;Phf6", 13, "italic", 0), ("fl-R274X/Y", 8.5, "italic", -4)])
    lab(p, letter[1], letter[2], letter[0], 11, "bold", align=letter[3], xr="px", yr="px")
    return p


pF = barplot((0, 805, 380, H_PAGE), (54, 885, 371, 1019), (-0.465, 3.444), (0, 2), [0, 0.5, 1.0, 1.5, 2.0], "%.1f",
             f_genes, f_ctrl, f_ctrl_err, f_vc, f_vc_err, f_bracket, f_sig,
             [("HSC related gene", 213, 841.7)], (62.7, 76.7, 858.3, 866, 874.3, 881, 80), ("F", 2, 826, "left"), 8)
pG = barplot((380, 805, W_PAGE, H_PAGE), (443, 885, 751, 1019), (-0.418, 3.398), (0, 5), [0, 1, 2, 3, 4, 5], "%d",
             g_genes, g_ctrl, g_ctrl_err, g_vc, g_vc_err, g_bracket, g_sig,
             [("Mononuclear proliferation", 586.3, 828.3), ("/differentiation related gene", 586.3, 844.3)],
             (447.7, 461.7, 862.7, 870.7, 878.3, 886, 465), ("G", 396.7, 826.7, "center"), 8)

layout = column(
    row(pA, column(row(gfigs[0], gfigs[1]), row(gfigs[2], gfigs[3]))),
    row(pB, column(pD, pE)),
    row(pF, pG),
)
open("out.html", "w").write(file_html(layout, INLINE, "Phf6 figure"))
